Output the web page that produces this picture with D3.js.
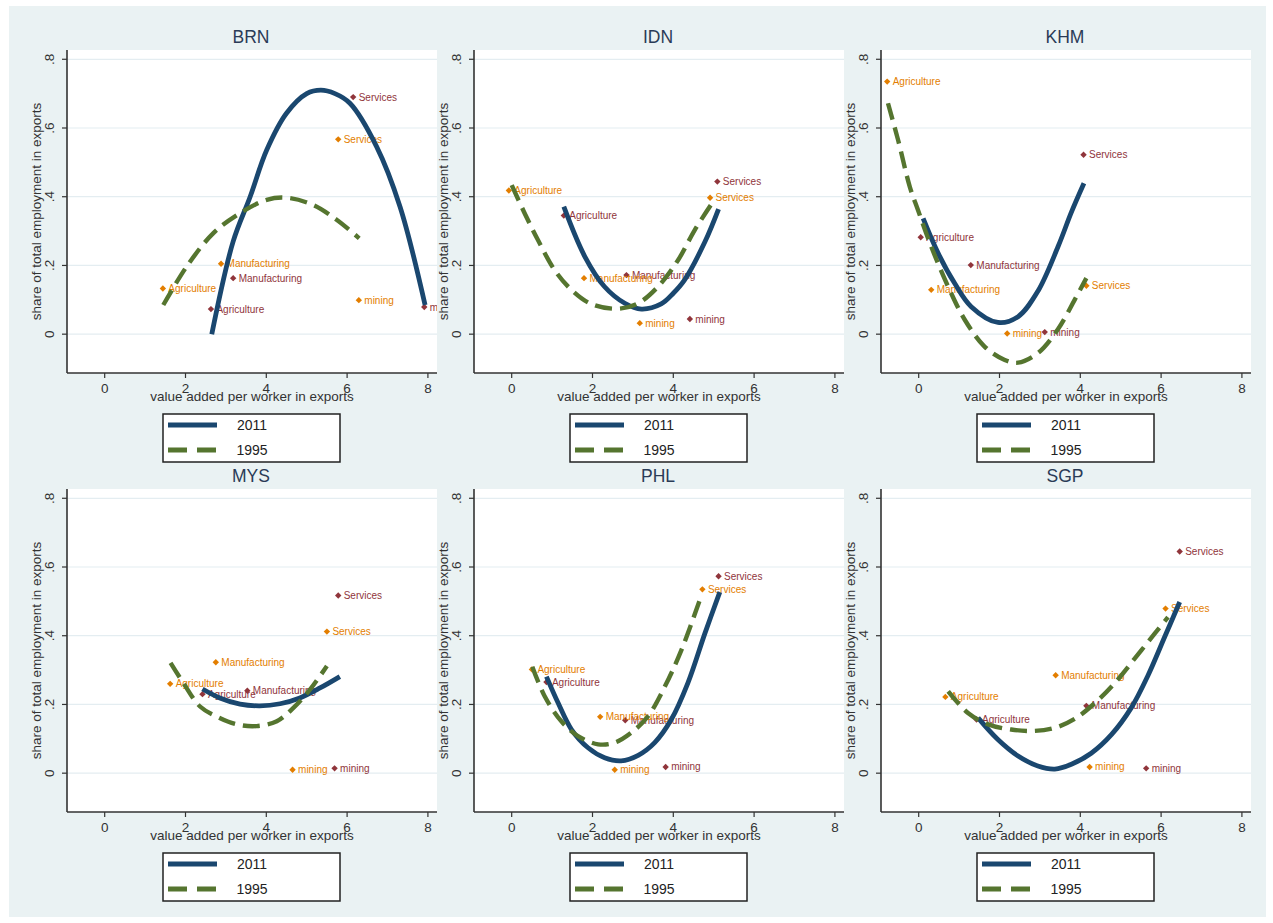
<!DOCTYPE html>
<html>
<head>
<meta charset="utf-8">
<script src="https://cdn.jsdelivr.net/npm/d3@7"></script>
<style>
  html, body { margin: 0; padding: 0; background: #ffffff; }
  svg { display: block; font-family: "Liberation Sans", Arial, sans-serif; }
</style>
</head>
<body>
<svg id="chart" width="1273" height="923"></svg>
<script>
// ---------------- DATA ----------------
const countries = ["BRN", "IDN", "KHM", "MYS", "PHL", "SGP"];
const sectors = ["Agriculture", "Manufacturing", "Services", "mining"];
const seriesNames = ["2011", "1995"];
const xTicks = [0, 2, 4, 6, 8];
const yTicks = [0, 0.2, 0.4, 0.6, 0.8];
const yTickLabels = ["0", ".2", ".4", ".6", ".8"];

// sector points, order: Agriculture, Manufacturing, Services, mining
const BRN_x2011 = [2.63, 3.18, 6.15, 7.91];
const BRN_y2011 = [0.073, 0.163, 0.690, 0.079];
const BRN_x1995 = [1.44, 2.88, 5.78, 6.29];
const BRN_y1995 = [0.133, 0.205, 0.567, 0.099];

const IDN_x2011 = [1.29, 2.84, 5.09, 4.41];
const IDN_y2011 = [0.345, 0.172, 0.444, 0.044];
const IDN_x1995 = [-0.07, 1.79, 4.91, 3.17];
const IDN_y1995 = [0.418, 0.163, 0.397, 0.032];

const KHM_x2011 = [0.05, 1.29, 4.08, 3.12];
const KHM_y2011 = [0.282, 0.201, 0.522, 0.006];
const KHM_x1995 = [-0.78, 0.31, 4.15, 2.19];
const KHM_y1995 = [0.735, 0.129, 0.141, 0.002];

const MYS_x2011 = [2.42, 3.53, 5.78, 5.69];
const MYS_y2011 = [0.230, 0.240, 0.517, 0.014];
const MYS_x1995 = [1.62, 2.75, 5.50, 4.65];
const MYS_y1995 = [0.260, 0.323, 0.412, 0.010];

const PHL_x2011 = [0.86, 2.81, 5.12, 3.81];
const PHL_y2011 = [0.265, 0.154, 0.573, 0.018];
const PHL_x1995 = [0.50, 2.19, 4.72, 2.55];
const PHL_y1995 = [0.302, 0.164, 0.535, 0.010];

const SGP_x2011 = [1.43, 4.15, 6.46, 5.63];
const SGP_y2011 = [0.156, 0.196, 0.645, 0.014];
const SGP_x1995 = [0.66, 3.39, 6.11, 4.23];
const SGP_y1995 = [0.222, 0.285, 0.479, 0.018];

// fitted curves: [x, y]
const BRN_fit2011 = [[2.65,0.0],[3.18,0.27],[3.6,0.40],[4.01,0.536],[4.5,0.643],[5.0,0.70],[5.35,0.71],[5.7,0.70],[6.07,0.672],[6.73,0.546],[7.31,0.371],[7.93,0.085]];
const BRN_fit1995 = [[1.45,0.085],[2.03,0.197],[2.69,0.294],[3.35,0.352],[4.01,0.391],[4.5,0.397],[5.16,0.376],[5.74,0.333],[6.3,0.279]];

const IDN_fit2011 = [[1.29,0.371],[1.81,0.226],[2.30,0.138],[2.80,0.090],[3.21,0.073],[3.70,0.088],[4.0,0.119],[4.28,0.158],[4.78,0.268],[5.12,0.364]];
const IDN_fit1995 = [[0.0,0.434],[0.32,0.352],[0.65,0.274],[1.06,0.187],[1.48,0.129],[1.97,0.088],[2.63,0.074],[3.13,0.090],[3.62,0.138],[4.12,0.216],[4.53,0.303],[4.93,0.376]];

const KHM_fit2011 = [[0.11,0.337],[0.48,0.236],[0.89,0.148],[1.30,0.080],[1.96,0.034],[2.46,0.051],[2.95,0.125],[3.45,0.255],[3.78,0.355],[4.09,0.439]];
const KHM_fit1995 = [[-0.76,0.672],[-0.51,0.565],[-0.22,0.429],[-0.02,0.362],[0.31,0.255],[0.73,0.138],[1.14,0.042],[1.63,-0.036],[2.13,-0.075],[2.46,-0.083],[2.95,-0.055],[3.45,0.015],[3.86,0.10],[4.15,0.163]];

const MYS_fit2011 = [[2.42,0.245],[2.85,0.219],[3.35,0.201],[3.84,0.196],[4.34,0.202],[4.83,0.219],[5.33,0.248],[5.82,0.281]];
const MYS_fit1995 = [[1.63,0.321],[1.95,0.262],[2.36,0.194],[2.77,0.165],[3.27,0.142],[3.76,0.137],[4.26,0.151],[4.67,0.190],[5.08,0.243],[5.50,0.312]];

const PHL_fit2011 = [[0.86,0.281],[1.15,0.204],[1.48,0.127],[1.89,0.074],[2.30,0.045],[2.71,0.036],[3.13,0.052],[3.54,0.089],[3.95,0.156],[4.36,0.262],[4.78,0.406],[5.15,0.527]];
const PHL_fit1995 = [[0.51,0.310],[0.82,0.223],[1.23,0.151],[1.64,0.108],[2.14,0.084],[2.55,0.089],[2.96,0.118],[3.37,0.165],[3.79,0.252],[4.20,0.358],[4.68,0.512]];

const SGP_fit2011 = [[1.47,0.161],[1.96,0.098],[2.46,0.050],[2.95,0.021],[3.37,0.012],[3.78,0.026],[4.27,0.058],[4.77,0.112],[5.26,0.190],[5.67,0.283],[6.09,0.397],[6.46,0.498]];
const SGP_fit1995 = [[0.73,0.238],[1.22,0.175],[1.72,0.142],[2.29,0.127],[2.87,0.123],[3.37,0.132],[3.86,0.158],[4.36,0.204],[4.85,0.262],[5.35,0.334],[5.84,0.406],[6.17,0.454]];

const panelData = {
  BRN: { x2011: BRN_x2011, y2011: BRN_y2011, x1995: BRN_x1995, y1995: BRN_y1995, fit2011: BRN_fit2011, fit1995: BRN_fit1995 },
  IDN: { x2011: IDN_x2011, y2011: IDN_y2011, x1995: IDN_x1995, y1995: IDN_y1995, fit2011: IDN_fit2011, fit1995: IDN_fit1995 },
  KHM: { x2011: KHM_x2011, y2011: KHM_y2011, x1995: KHM_x1995, y1995: KHM_y1995, fit2011: KHM_fit2011, fit1995: KHM_fit1995 },
  MYS: { x2011: MYS_x2011, y2011: MYS_y2011, x1995: MYS_x1995, y1995: MYS_y1995, fit2011: MYS_fit2011, fit1995: MYS_fit1995 },
  PHL: { x2011: PHL_x2011, y2011: PHL_y2011, x1995: PHL_x1995, y1995: PHL_y1995, fit2011: PHL_fit2011, fit1995: PHL_fit1995 },
  SGP: { x2011: SGP_x2011, y2011: SGP_y2011, x1995: SGP_x1995, y1995: SGP_y1995, fit2011: SGP_fit2011, fit1995: SGP_fit1995 }
};

// ---------------- STYLE / LAYOUT ----------------
const C = {
  bg: "#eaf2f3", plot: "#ffffff", grid: "#e4edf1", axis: "#333333",
  navy: "#1a476f", green: "#55752f", maroon: "#90353b", orange: "#e37e00",
  title: "#2a3b57", text: "#333333"
};
const colLeft = [67, 474, 881];
const rowTop = [50, 489];
const plotW = 370, plotH = 323;
const xDomain = [-0.933, 8.225];
const yDomain = [-0.113, 0.827];

const svg = d3.select("#chart");
svg.append("rect").attr("x", 0).attr("y", 0).attr("width", 1273).attr("height", 923).attr("fill", "#ffffff");
svg.append("rect").attr("x", 9).attr("y", 6).attr("width", 1257).attr("height", 911).attr("fill", C.bg);

const diamond = d3.symbol().type(d3.symbolDiamond2).size(26);

countries.forEach((cty, i) => {
  const left = colLeft[i % 3], top = rowTop[Math.floor(i / 3)];
  const d = panelData[cty];
  const x = d3.scaleLinear().domain(xDomain).range([left, left + plotW]);
  const y = d3.scaleLinear().domain(yDomain).range([top + plotH, top]);
  const g = svg.append("g");

  // plot region
  g.append("rect").attr("x", left).attr("y", top).attr("width", plotW).attr("height", plotH).attr("fill", C.plot);

  // grid
  g.selectAll(".grid").data(yTicks).enter().append("line")
    .attr("x1", left).attr("x2", left + plotW)
    .attr("y1", v => y(v)).attr("y2", v => y(v))
    .attr("stroke", C.grid).attr("stroke-width", 1.2);

  // clip
  const clipId = "clip-" + cty;
  svg.append("clipPath").attr("id", clipId).append("rect")
    .attr("x", left).attr("y", top).attr("width", plotW).attr("height", plotH);
  const inner = g.append("g").attr("clip-path", `url(#${clipId})`);

  // points + labels
  const pointSets = [
    { xs: d.x2011, ys: d.y2011, color: C.maroon },
    { xs: d.x1995, ys: d.y1995, color: C.orange }
  ];
  pointSets.forEach(ps => {
    sectors.forEach((s, k) => {
      const px = x(ps.xs[k]), py = y(ps.ys[k]);
      inner.append("path").attr("d", diamond).attr("transform", `translate(${px},${py})`).attr("fill", ps.color);
      inner.append("text").attr("x", px + 5.5).attr("y", py).attr("dy", "0.35em")
        .attr("font-size", 10).attr("fill", ps.color).text(s);
    });
  });

  // fitted lines
  const line = d3.line().x(p => x(p[0])).y(p => y(p[1])).curve(d3.curveCatmullRom.alpha(0.5));
  inner.append("path").attr("d", line(d.fit2011)).attr("fill", "none")
    .attr("stroke", C.navy).attr("stroke-width", 4.8);
  inner.append("path").attr("d", line(d.fit1995)).attr("fill", "none")
    .attr("stroke", C.green).attr("stroke-width", 4.4).attr("stroke-dasharray", "17,8");

  // axes
  const bottom = top + plotH;
  g.append("line").attr("x1", left).attr("x2", left + plotW).attr("y1", bottom).attr("y2", bottom)
    .attr("stroke", C.axis).attr("stroke-width", 1.6);
  g.append("line").attr("x1", left).attr("x2", left).attr("y1", top).attr("y2", bottom)
    .attr("stroke", C.axis).attr("stroke-width", 1.6);

  // y ticks
  yTicks.forEach((v, k) => {
    g.append("line").attr("x1", left - 5).attr("x2", left).attr("y1", y(v)).attr("y2", y(v))
      .attr("stroke", C.axis).attr("stroke-width", 1.2);
    g.append("text").attr("transform", `translate(${left - 18},${y(v)}) rotate(-90)`)
      .attr("text-anchor", "middle").attr("dy", "0.35em")
      .attr("font-size", 13.5).attr("fill", C.text).text(yTickLabels[k]);
  });
  // x ticks
  xTicks.forEach(v => {
    g.append("line").attr("x1", x(v)).attr("x2", x(v)).attr("y1", bottom).attr("y2", bottom + 5)
      .attr("stroke", C.axis).attr("stroke-width", 1.2);
    g.append("text").attr("x", x(v)).attr("y", bottom + 15).attr("dy", "0.35em")
      .attr("text-anchor", "middle").attr("font-size", 13.5).attr("fill", C.text).text(v);
  });

  // axis titles
  g.append("text").attr("x", left + plotW / 2).attr("y", bottom + 28)
    .attr("text-anchor", "middle").attr("font-size", 13.5).attr("fill", C.text)
    .text("value added per worker in exports");
  g.append("text").attr("transform", `translate(${left - 31},${top + plotH / 2}) rotate(-90)`)
    .attr("text-anchor", "middle").attr("dy", "0.35em").attr("font-size", 13.5).attr("fill", C.text)
    .text("share of total employment in exports");

  // panel title
  g.append("text").attr("x", left + plotW / 2 - 1).attr("y", top - 7)
    .attr("text-anchor", "middle").attr("font-size", 17.5).attr("fill", C.title).text(cty);

  // legend
  const lg = g.append("g");
  lg.append("rect").attr("x", left + 96).attr("y", bottom + 41).attr("width", 177).attr("height", 48)
    .attr("fill", "#ffffff").attr("stroke", "#222222").attr("stroke-width", 1.5);
  const legendStyles = [
    { color: C.navy, dash: null, w: 4.8 },
    { color: C.green, dash: "19,10", w: 4.8 }
  ];
  seriesNames.forEach((name, k) => {
    const ly = bottom + 52 + k * 25;
    const l = lg.append("line").attr("x1", left + 101).attr("x2", left + 150).attr("y1", ly).attr("y2", ly)
      .attr("stroke", legendStyles[k].color).attr("stroke-width", legendStyles[k].w);
    if (legendStyles[k].dash) l.attr("stroke-dasharray", legendStyles[k].dash);
    lg.append("text").attr("x", left + 185).attr("y", ly).attr("dy", "0.35em")
      .attr("text-anchor", "middle").attr("font-size", 14).attr("fill", "#222222").text(name);
  });
});
</script>
</body>
</html>
